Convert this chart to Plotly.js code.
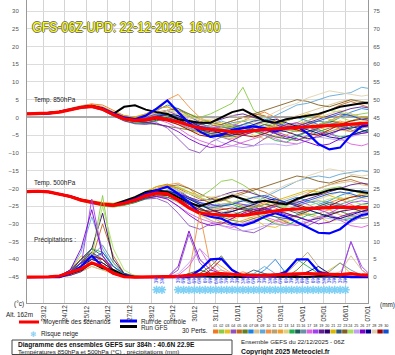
<!DOCTYPE html>
<html><head><meta charset="utf-8">
<script src="https://cdn.plot.ly/plotly-3.0.1.min.js"></script>
<style>body{margin:0;background:#fff}#c{width:395px;height:355px}</style>
</head><body><div id="c"></div>
<script>
// hours since 22/12/2025 06Z
const hours=[0,12,24,36,48,60,72,84,96,108,120,132,144,156,168,180,192,204,216,228,240,252,264,276,288,300,312,324,336,348,360,372,384];
const dateTickHours=[18,42,66,90,114,138,162,186,210,234,258,282,306,330,354,378];
const dateLabels=['23/12','24/12','25/12','26/12','27/12','28/12','29/12','30/12','31/12','01/01','02/01','03/01','04/01','05/01','06/01','07/01'];
const leftTicks=[-45,-40,-35,-30,-25,-20,-15,-10,-5,0,5,10,15,20,25,30];
const rightTicks=[0,5,10,15,20,25,30,35,40,45,50,55,60,65,70,75];

// ensemble mean / control / GFS
const mean_t850=[1.0,1.0,1.2,1.5,2.2,2.8,3.1,2.3,0.8,-0.4, -0.8,-0.6,0.0,-0.5,-1.2,-2.2,-3.0,-3.4,-3.8,-4.0, -4.0,-3.6,-3.4,-3.2,-3.0,-2.8,-2.7,-2.4,-2.1,-1.9, -1.8,-1.6,-1.5];
const ctrl_t850=[1.0,1.0,1.1,1.6,2.3,2.9,3.2,2.6,1.2,0.0, -0.5,0.5,2.5,4.8,1.5,-1.5,-4.0,-5.5,-5.0,-3.5, -3.0,-2.5,-3.0,-4.0,-3.0,-2.5,-4.5,-7.5,-9.0,-8.5, -5.0,-2.5,-2.0];
const gfs_t850=[1.0,1.0,1.3,1.6,2.2,2.9,3.3,2.5,1.0,3.0, 3.4,2.2,1.5,1.0,-0.5,-1.0,-1.5,-1.5,0.0,1.5, 2.2,0.5,-1.0,-1.5,-0.5,0.0,0.5,1.0,2.0,3.0, 3.5,4.0,4.2];
const mean_t500=[-20.9,-20.8,-21.0,-21.6,-22.3,-23.3,-24.0,-24.5,-24.8,-24.2, -23.3,-22.0,-21.3,-21.5,-23.3,-25.5,-27.0,-27.3,-27.5,-27.6, -27.6,-27.2,-26.8,-26.3,-26.0,-25.8,-25.6,-25.5,-25.4,-25.3, -25.3,-25.4,-25.4];
const ctrl_t500=[-20.9,-20.8,-21.0,-21.5,-22.2,-23.2,-24.0,-24.6,-24.8,-24.0, -23.0,-21.5,-20.5,-19.5,-21.5,-24.0,-27.0,-28.0,-28.5,-30.0, -30.5,-29.5,-28.0,-27.0,-28.0,-29.5,-31.0,-32.5,-32.7,-31.5, -29.0,-27.5,-27.0];
const gfs_t500=[-20.9,-20.8,-21.0,-21.6,-22.3,-23.2,-23.9,-24.4,-24.6,-23.6, -22.5,-21.0,-20.5,-21.0,-22.5,-24.0,-25.0,-24.0,-23.0,-22.0, -23.0,-24.0,-23.5,-24.0,-24.5,-23.0,-22.0,-21.5,-20.5,-20.0, -20.5,-21.0,-21.5];
const mean_prec=[0,0,0.1,0.3,1.4,2.3,4.0,3.0,1.1,0.1, 0,0,0,0,0.2,0.5,0.6,0.8,1.0,0.8, 0.5,0.4,0.5,0.7,0.8,0.9,1.0,1.0,0.8,0.7, 1.0,0.6,0.5];
const ctrl_prec=[0,0,0,0,1.0,3.0,6.0,3.0,1.0,0.2, 0,0,0,0,0,0,2.0,5.0,5.2,2.0, 0.3,0,0.5,0.5,1.5,5.0,5.0,1.5,0.8,0.3, 0,0,0];
const gfs_prec=[0,0,0,0.1,1.0,2.0,4.0,2.5,2.0,0.5, 0,0,0,0,0,0.3,0.5,0.2,0,0, 0,0.3,0.5,0.2,0,0,0,0.3,0.5,0.2, 0,0,0];

// 30 perturbations: 850 hPa temperature
const m01_t850=[1.2,1.1,1.4,1.8,2.5,3.2,3.8,3.5,2.0,0.5, 0.0,1.0,2.5,3.0,1.5,0.0,-1.0,-2.0,-3.0,-2.5, -1.0,0.5,1.5,0.0,-2.0,-3.5,-4.0,-2.5,-1.0,0.5, 1.0,0.0,-0.5];
const m02_t850=[0.9,1.0,1.1,1.4,2.0,2.7,3.0,2.2,0.6,-0.8, -1.5,-1.0,0.5,1.5,2.0,1.0,0.0,1.0,2.5,4.0, 8.5,2.0,0.0,-1.0,-2.0,-1.5,0.0,1.0,2.0,1.5, 0.5,1.0,1.5];
const m03_t850=[1.0,1.0,1.3,1.6,2.3,2.9,3.2,2.5,1.0,-0.2, -1.0,-1.5,-1.0,-0.5,-2.0,-3.5,-4.5,-5.0,-4.0,-3.0, -3.5,-5.0,-6.0,-5.0,-3.5,-2.0,-1.5,-2.5,-4.0,-3.0, -2.0,-1.0,0.0];
const m04_t850=[1.1,1.0,1.2,1.4,2.0,2.6,2.8,2.0,0.4,-1.0, -1.8,-2.0,-1.5,-3.0,-6.0,-9.0,-10.0,-7.0,-5.5,-6.5, -7.5,-8.0,-6.0,-4.0,-5.0,-6.5,-5.0,-3.0,-2.0,-3.0, -4.0,-2.5,-1.5];
const m05_t850=[1.0,1.1,1.3,1.7,2.4,3.0,3.4,2.8,1.4,0.5, 0.0,0.5,1.5,2.0,0.5,-1.0,-2.0,-2.5,-2.0,-1.0, 0.0,1.0,0.5,-1.0,-2.5,-2.0,-1.0,0.5,2.0,3.5, 4.5,3.5,2.5];
const m06_t850=[1.0,0.9,1.1,1.5,2.1,2.8,3.0,2.2,0.8,-0.5, -1.2,-1.5,-2.0,-2.5,-3.0,-3.5,-4.0,-4.5,-5.0,-5.5, -5.0,-4.0,-3.5,-4.5,-6.0,-6.5,-5.5,-4.0,-3.0,-2.5, -3.5,-4.5,-4.0];
const m07_t850=[1.1,1.0,1.2,1.5,2.2,2.9,3.3,2.7,1.1,0.0, -0.3,0.5,2.0,3.5,2.5,0.5,-1.5,-3.0,-4.0,-3.5, -2.0,-2.5,-3.5,-2.0,-1.0,0.0,-1.0,-2.0,-1.5,0.0, 1.5,2.5,2.0];
const m08_t850=[1.0,1.0,1.2,1.6,2.3,2.9,3.1,2.4,0.9,-0.3, -0.8,-0.3,0.8,1.5,1.0,-0.5,-2.0,-3.0,-3.5,-4.5, -5.0,-4.0,-2.5,-1.5,-0.5,0.5,1.5,2.5,3.5,4.5, 5.0,4.0,3.5];
const m09_t850=[1.0,1.0,1.3,1.7,2.4,3.0,3.3,2.6,1.0,-0.2, -0.5,0.2,1.0,0.5,-1.0,-2.5,-3.0,-2.0,-1.0,-2.0, -3.0,-2.5,-1.0,0.5,2.0,3.5,4.0,5.0,6.0,6.5, 7.0,8.5,8.0];
const m10_t850=[1.2,1.2,1.4,1.8,2.6,3.3,3.8,3.0,1.6,0.5, 0.0,0.5,1.5,5.0,6.5,3.0,0.0,-1.5,-2.5,-3.0, -2.0,-1.0,-2.0,-3.0,-2.5,-1.5,-2.5,-3.5,-2.0,-1.0, -2.0,-3.0,-2.5];
const m11_t850=[0.9,1.0,1.1,1.5,2.1,2.7,2.9,2.1,0.6,-0.6, -1.2,-1.0,-0.5,-1.0,-2.0,-3.0,-3.5,-3.0,-2.5,-3.5, -4.5,-4.0,-3.0,-2.0,-2.5,-3.5,-4.5,-5.0,-4.0,-3.0, -2.0,-2.5,-3.0];
const m12_t850=[1.0,1.1,1.3,1.6,2.3,2.9,3.2,2.5,1.0,-0.2, -0.8,-0.5,0.3,1.0,0.0,-1.5,-3.0,-4.5,-5.5,-6.0, -5.0,-4.0,-4.5,-5.5,-5.0,-3.5,-2.0,-1.0,-2.0,-3.5, -4.0,-3.0,-2.0];
const m13_t850=[1.0,1.0,1.2,1.5,2.2,2.8,3.1,2.4,0.9,-0.4, -0.9,-0.7,0.0,0.5,-0.5,-1.5,-2.5,-3.5,-4.0,-3.0, -2.0,-1.5,-2.5,-3.5,-3.0,-2.0,-1.0,0.0,1.0,2.0, 1.0,0.0,0.5];
const m14_t850=[1.1,1.0,1.2,1.6,2.3,2.9,3.2,2.4,0.8,-0.6, -1.4,-1.8,-1.0,0.0,-1.0,-2.0,-3.0,-3.5,-3.0,-2.5, -3.0,-4.0,-5.0,-6.5,-7.0,-5.5,-4.0,-3.5,-4.5,-5.5, -5.0,-4.0,-3.5];
const m15_t850=[1.0,1.0,1.1,1.4,2.0,2.6,2.9,2.1,0.5,-0.9, -1.6,-1.5,-0.8,-0.5,-1.5,-3.0,-4.0,-5.0,-5.5,-5.0, -4.0,-3.0,-2.0,-2.5,-3.5,-4.0,-3.0,-2.0,-1.0,-1.5, -2.5,-3.5,-4.5];
const m16_t850=[1.0,1.1,1.3,1.7,2.4,3.0,3.3,2.6,1.1,-0.1, -0.6,0.0,0.8,0.5,-0.5,-2.0,-3.0,-3.5,-2.5,-1.5, -1.0,-2.0,-3.0,-4.0,-3.5,-2.5,-1.5,-1.0,-1.5,-2.0, -1.0,0.0,0.5];
const m17_t850=[1.0,1.0,1.2,1.5,2.2,2.8,3.0,2.2,0.6,-0.7, -1.3,-1.2,-0.5,-1.5,-3.0,-5.0,-6.5,-7.5,-8.5,-8.0, -7.0,-6.0,-5.0,-6.0,-7.0,-7.5,-6.5,-5.0,-4.5,-6.0, -7.5,-8.0,-7.0];
const m18_t850=[1.1,1.0,1.2,1.6,2.3,3.0,3.4,2.8,1.3,0.2, -0.4,0.0,1.0,2.0,0.5,-1.0,-2.5,-3.0,-2.5,-2.0, -2.5,-3.5,-4.0,-3.0,-2.0,-1.5,-2.5,-4.0,-5.0,-3.5, -2.0,-1.5,-2.0];
const m19_t850=[1.0,1.0,1.1,1.5,2.1,2.7,3.0,2.3,0.7,-0.5, -1.0,-0.8,0.0,0.5,0.0,-1.0,-2.0,-1.5,-0.5,0.5, 1.0,0.0,-1.0,-2.0,-3.0,-2.5,-1.5,-0.5,0.5,1.5, 2.5,3.0,2.5];
const m20_t850=[1.0,1.0,1.2,1.5,2.2,2.8,3.1,2.4,0.9,-0.3, -0.8,-0.6,0.0,0.5,-0.5,-2.0,-3.5,-4.0,-4.5,-5.0, -4.5,-3.5,-3.0,-3.5,-4.0,-5.0,-6.0,-5.5,-4.5,-3.5, -3.0,-2.5,-2.0];
const m21_t850=[1.1,1.1,1.3,1.7,2.4,3.1,3.5,2.9,1.5,0.4, 0.2,1.0,2.5,3.0,2.0,0.5,-0.5,-1.0,-1.5,-2.5, -3.5,-4.0,-3.0,-2.0,-1.0,0.0,1.0,0.5,-0.5,-1.5, -1.0,0.0,0.5];
const m22_t850=[1.0,1.0,1.2,1.5,2.2,2.8,3.0,2.2,0.7,-0.6, -1.1,-1.0,-0.3,0.0,-1.0,-2.5,-3.5,-4.5,-5.0,-4.0, -3.0,-3.5,-4.5,-5.5,-6.0,-5.0,-4.0,-3.0,-2.0,-2.5, -3.0,-2.0,-1.5];
const m23_t850=[1.0,1.0,1.3,1.6,2.3,3.0,3.3,2.6,1.1,0.0, -0.5,0.2,1.2,2.0,2.5,1.0,-0.5,-1.5,-2.0,-1.0, 0.0,1.0,2.0,3.0,4.0,5.0,4.5,3.5,3.0,4.0, 5.0,4.5,4.0];
const m24_t850=[0.9,1.0,1.1,1.4,2.0,2.6,2.9,2.1,0.6,-0.7, -1.3,-1.0,-0.2,0.5,1.0,0.5,-0.5,-1.5,-2.5,-2.0, -1.0,-0.5,-1.5,-2.5,-3.5,-4.0,-3.0,-2.0,-1.0,0.0, -1.0,-2.0,-2.5];
const m25_t850=[1.0,1.0,1.2,1.6,2.3,2.9,3.2,2.5,1.0,-0.3, -0.9,-0.6,0.0,-0.5,-1.5,-3.0,-4.0,-5.5,-7.0,-8.0, -8.5,-8.0,-7.5,-7.5,-8.0,-7.5,-6.5,-5.5,-6.0,-6.5, -5.5,-4.5,-4.0];
const m26_t850=[1.1,1.0,1.2,1.5,2.2,2.8,3.1,2.4,0.8,-0.5, -1.0,-1.3,-1.8,-2.5,-4.0,-6.0,-7.5,-8.5,-8.0,-6.5, -5.0,-4.0,-3.5,-4.5,-5.5,-6.0,-7.0,-8.0,-7.5,-6.0, -5.0,-4.5,-4.0];
const m27_t850=[1.0,1.0,1.2,1.5,2.2,2.8,3.1,2.3,0.7,-0.4, -0.9,-0.6,0.2,1.0,0.5,-1.0,-2.5,-3.5,-4.5,-4.0, -3.0,-2.0,-1.0,-0.5,-1.5,-2.5,-3.5,-4.5,-5.5,-6.0, -5.0,-4.0,-3.0];
const m28_t850=[1.0,1.1,1.3,1.7,2.4,3.1,3.4,2.7,1.2,0.1, -0.3,0.3,1.3,2.0,1.0,0.0,-0.5,-0.5,0.0,0.5, 0.0,-1.0,0.0,1.5,3.0,4.0,5.5,6.5,7.5,7.0, 6.5,6.0,6.5];
const m29_t850=[1.0,1.0,1.2,1.5,2.2,2.8,3.0,2.2,0.7,-0.6, -1.2,-1.0,-0.5,-1.0,-2.0,-3.5,-5.0,-5.5,-5.0,-4.5, -5.0,-5.5,-4.5,-3.5,-3.0,-3.5,-4.5,-5.0,-3.5,-2.0, -1.0,-0.5,-1.0];
const m30_t850=[1.0,1.0,1.2,1.6,2.3,2.9,3.2,2.5,1.0,-0.2, -0.7,-0.3,0.5,1.0,0.0,-1.5,-2.5,-3.0,-3.5,-3.0, -2.0,-1.0,-0.5,-1.5,-2.5,-3.0,-2.0,-1.0,0.0,1.0, 0.5,-0.5,0.0];

// 500 hPa temperature
const m01_t500=[-20.8,-20.7,-20.9,-21.4,-22.0,-23.0,-23.6,-24.0,-24.3,-23.8, -23.0,-21.5,-20.0,-19.0,-20.5,-22.5,-24.5,-26.0,-27.5,-28.5, -27.0,-25.0,-24.0,-25.5,-27.0,-28.0,-26.5,-25.0,-24.0,-23.0, -24.5,-26.0,-25.5];
const m02_t500=[-21.0,-20.9,-21.1,-21.7,-22.5,-23.6,-24.4,-25.0,-25.3,-24.8, -24.0,-22.8,-21.5,-20.5,-19.5,-21.0,-22.5,-20.5,-18.0,-17.5, -19.0,-21.0,-23.0,-24.5,-25.0,-23.5,-22.0,-21.0,-20.0,-19.5, -20.5,-21.5,-22.0];
const m03_t500=[-20.9,-20.8,-21.0,-21.6,-22.4,-23.4,-24.1,-24.6,-24.9,-24.3, -23.4,-22.2,-21.5,-22.0,-23.5,-25.5,-27.5,-29.0,-30.0,-29.0, -27.5,-28.5,-30.5,-31.0,-29.5,-28.0,-27.0,-28.0,-29.5,-28.5, -27.0,-26.0,-25.5];
const m04_t500=[-20.8,-20.8,-21.0,-21.5,-22.3,-23.2,-23.9,-24.4,-24.7,-24.4, -23.8,-23.0,-22.8,-24.0,-27.0,-30.5,-31.5,-30.0,-29.5,-30.5, -32.0,-32.5,-31.0,-29.0,-28.5,-29.5,-30.5,-29.0,-27.5,-28.5, -29.5,-28.0,-27.0];
const m05_t500=[-20.9,-20.7,-20.9,-21.5,-22.2,-23.1,-23.8,-24.2,-24.4,-23.6, -22.5,-21.0,-19.5,-18.8,-20.0,-21.5,-23.0,-24.0,-23.5,-22.0, -21.0,-20.0,-21.0,-22.5,-24.0,-23.0,-21.5,-20.0,-19.0,-18.0, -17.5,-18.5,-19.5];
const m06_t500=[-20.9,-20.9,-21.1,-21.7,-22.4,-23.4,-24.1,-24.7,-25.0,-24.6, -23.8,-22.6,-21.8,-22.0,-23.0,-24.5,-26.0,-27.0,-28.0,-29.0, -29.5,-28.5,-27.5,-28.0,-29.5,-30.5,-29.5,-28.0,-27.0,-26.5, -27.5,-28.5,-28.0];
const m07_t500=[-20.8,-20.8,-21.0,-21.6,-22.3,-23.3,-24.0,-24.4,-24.6,-23.9, -22.9,-21.5,-20.3,-19.5,-20.5,-22.5,-24.5,-26.0,-27.0,-26.0, -24.5,-25.0,-26.5,-25.0,-23.5,-22.5,-23.5,-24.5,-23.5,-22.0, -21.0,-20.5,-21.0];
const m08_t500=[-20.9,-20.8,-21.0,-21.6,-22.3,-23.3,-24.0,-24.5,-24.8,-24.2, -23.3,-22.0,-21.0,-20.5,-21.0,-22.5,-24.0,-25.5,-26.5,-27.5, -28.0,-27.0,-25.5,-24.0,-23.0,-22.0,-21.0,-20.0,-19.0,-18.5, -18.0,-19.0,-19.5];
const m09_t500=[-20.9,-20.8,-21.0,-21.5,-22.2,-23.2,-23.9,-24.3,-24.6,-24.0, -23.0,-21.8,-21.0,-21.5,-23.0,-24.5,-25.0,-24.0,-23.0,-24.0, -25.0,-24.0,-22.5,-21.0,-19.5,-18.0,-17.0,-16.5,-17.0,-16.0, -15.5,-15.0,-15.5];
const m10_t500=[-20.8,-20.7,-20.9,-21.4,-22.1,-23.0,-23.7,-24.1,-24.3,-23.6, -22.6,-21.2,-20.0,-19.0,-18.5,-20.0,-22.5,-24.5,-25.5,-26.5, -25.5,-24.5,-25.5,-26.5,-26.0,-25.0,-26.0,-27.0,-26.0,-25.0, -25.5,-26.5,-26.0];
const m11_t500=[-21.0,-20.9,-21.1,-21.7,-22.5,-23.5,-24.2,-24.8,-25.1,-24.6, -23.8,-22.6,-22.0,-22.5,-24.0,-25.5,-26.5,-26.0,-25.5,-26.5, -27.5,-27.0,-26.0,-25.0,-25.5,-26.5,-27.5,-28.5,-27.5,-26.5, -25.5,-26.0,-26.5];
const m12_t500=[-20.9,-20.8,-21.0,-21.6,-22.3,-23.3,-24.0,-24.5,-24.8,-24.2, -23.3,-22.0,-21.2,-21.0,-22.0,-24.0,-26.0,-28.0,-29.5,-30.0, -29.0,-28.0,-28.5,-29.5,-29.0,-27.5,-26.0,-25.0,-26.0,-27.5, -28.0,-27.0,-26.0];
const m13_t500=[-20.9,-20.8,-21.0,-21.6,-22.3,-23.3,-24.0,-24.5,-24.8,-24.2, -23.3,-22.0,-21.3,-21.0,-21.8,-23.0,-24.5,-26.0,-27.0,-26.0, -25.0,-24.5,-25.5,-26.5,-26.0,-25.0,-24.0,-23.0,-22.0,-21.0, -22.0,-23.0,-22.5];
const m14_t500=[-20.8,-20.8,-21.0,-21.6,-22.4,-23.4,-24.2,-24.8,-25.1,-24.7, -24.0,-23.0,-22.0,-21.5,-22.5,-24.0,-25.0,-25.5,-25.0,-24.5, -25.5,-27.0,-28.5,-30.0,-30.5,-29.0,-27.5,-27.0,-28.0,-29.0, -28.5,-27.5,-27.0];
const m15_t500=[-20.9,-20.9,-21.1,-21.7,-22.5,-23.5,-24.2,-24.7,-25.0,-24.6, -23.9,-22.8,-22.3,-22.5,-23.5,-25.0,-26.5,-27.5,-28.0,-27.5, -26.5,-25.5,-24.5,-25.0,-26.0,-27.0,-26.0,-25.0,-24.0,-24.5, -25.5,-26.5,-27.0];
const m16_t500=[-20.9,-20.8,-21.0,-21.5,-22.2,-23.2,-23.9,-24.4,-24.7,-24.1, -23.1,-21.8,-20.8,-20.5,-21.5,-23.0,-24.5,-25.5,-25.0,-24.0, -23.5,-24.5,-25.5,-26.5,-26.0,-25.0,-24.0,-23.5,-24.0,-24.5, -23.5,-22.5,-22.0];
const m17_t500=[-20.9,-20.8,-21.0,-21.6,-22.4,-23.4,-24.1,-24.6,-24.9,-24.4, -23.6,-22.5,-22.0,-23.0,-25.0,-27.0,-28.5,-29.5,-30.5,-31.0, -30.0,-29.0,-28.0,-29.0,-30.0,-30.5,-29.5,-28.0,-27.5,-29.0, -30.5,-31.0,-30.0];
const m18_t500=[-20.8,-20.7,-20.9,-21.5,-22.2,-23.2,-23.8,-24.2,-24.4,-23.7, -22.7,-21.3,-20.2,-19.8,-21.0,-22.5,-24.0,-25.0,-24.5,-24.0, -24.5,-25.5,-26.0,-25.0,-24.0,-23.5,-24.5,-26.0,-27.0,-25.5, -24.0,-23.5,-24.0];
const m19_t500=[-20.9,-20.8,-21.0,-21.6,-22.3,-23.3,-24.0,-24.5,-24.8,-24.1, -23.2,-21.9,-21.0,-20.8,-21.5,-22.5,-23.5,-23.0,-22.0,-21.0, -20.5,-21.5,-22.5,-23.5,-24.5,-24.0,-23.0,-22.0,-21.0,-20.0, -19.0,-18.5,-19.0];
const m20_t500=[-20.9,-20.8,-21.0,-21.6,-22.3,-23.3,-24.0,-24.5,-24.8,-24.2, -23.3,-22.1,-21.4,-21.2,-22.0,-23.5,-25.5,-27.0,-27.5,-28.0, -27.5,-26.5,-26.0,-26.5,-27.0,-28.0,-29.0,-28.5,-27.5,-26.5, -26.0,-25.5,-25.0];
const m21_t500=[-20.8,-20.7,-20.9,-21.4,-22.1,-23.0,-23.6,-24.0,-24.2,-23.4, -22.3,-20.8,-19.5,-19.0,-19.8,-21.0,-22.0,-22.5,-23.0,-24.0, -25.0,-25.5,-24.5,-23.5,-22.5,-21.5,-20.5,-21.0,-22.0,-23.0, -22.5,-21.5,-21.0];
const m22_t500=[-20.9,-20.8,-21.0,-21.6,-22.3,-23.3,-24.0,-24.5,-24.8,-24.3, -23.5,-22.3,-21.6,-21.5,-22.5,-24.0,-25.5,-27.0,-27.5,-26.5, -25.5,-26.0,-27.0,-28.0,-28.5,-27.5,-26.5,-25.5,-24.5,-25.0, -25.5,-24.5,-24.0];
const m23_t500=[-20.9,-20.8,-21.0,-21.5,-22.2,-23.2,-23.9,-24.3,-24.5,-23.8, -22.8,-21.4,-20.2,-19.5,-19.0,-20.0,-21.5,-23.0,-23.5,-22.5, -21.5,-20.5,-19.5,-18.5,-17.5,-16.5,-17.0,-18.0,-18.5,-17.5, -16.5,-17.0,-17.5];
const m24_t500=[-21.0,-20.9,-21.1,-21.7,-22.5,-23.5,-24.2,-24.8,-25.1,-24.6, -23.8,-22.6,-21.8,-21.3,-20.8,-21.5,-22.5,-23.5,-24.5,-24.0, -23.0,-22.5,-23.5,-24.5,-25.5,-26.0,-25.0,-24.0,-23.0,-22.5, -23.5,-24.5,-25.0];
const m25_t500=[-20.9,-20.8,-21.0,-21.6,-22.3,-23.3,-24.0,-24.5,-24.8,-24.2, -23.4,-22.2,-21.5,-21.8,-23.0,-25.0,-27.0,-29.0,-30.5,-31.5, -32.0,-31.5,-30.5,-30.0,-30.5,-30.0,-29.0,-28.0,-28.5,-29.0, -28.0,-27.0,-26.5];
const m26_t500=[-20.9,-20.8,-21.0,-21.6,-22.4,-23.4,-24.1,-24.6,-24.9,-24.4, -23.7,-22.7,-22.3,-23.0,-25.0,-27.5,-29.5,-30.5,-30.0,-28.5, -27.0,-26.0,-25.5,-26.5,-27.5,-28.0,-29.0,-30.0,-29.5,-28.0, -27.0,-26.5,-26.0];
const m27_t500=[-20.9,-20.8,-21.0,-21.6,-22.3,-23.3,-24.0,-24.5,-24.8,-24.2, -23.3,-22.0,-21.1,-20.8,-21.5,-23.0,-24.5,-26.0,-27.0,-26.5, -25.5,-24.5,-23.5,-23.0,-24.0,-25.0,-26.0,-27.0,-28.0,-28.5, -27.5,-26.5,-25.5];
const m28_t500=[-20.8,-20.7,-20.9,-21.5,-22.2,-23.1,-23.8,-24.2,-24.4,-23.7, -22.7,-21.3,-20.1,-19.5,-20.5,-21.5,-22.0,-22.5,-22.0,-21.5, -22.0,-23.0,-22.0,-20.5,-19.0,-18.0,-16.5,-15.5,-14.5,-15.0, -16.0,-16.5,-16.0];
const m29_t500=[-20.9,-20.9,-21.1,-21.7,-22.4,-23.4,-24.1,-24.7,-25.0,-24.5, -23.7,-22.5,-21.8,-22.0,-23.0,-24.5,-26.0,-26.5,-26.0,-25.5, -26.0,-26.5,-25.5,-24.5,-24.0,-24.5,-25.5,-26.0,-25.0,-23.5, -22.5,-22.0,-22.5];
const m30_t500=[-20.9,-20.8,-21.0,-21.6,-22.3,-23.3,-24.0,-24.5,-24.7,-24.1, -23.2,-21.9,-21.0,-20.8,-21.8,-23.0,-24.0,-24.5,-25.0,-24.5, -23.5,-22.5,-22.0,-23.0,-24.0,-24.5,-23.5,-22.5,-21.5,-21.0, -21.5,-22.5,-22.0];

// precipitation (mm)
const m01_prec=[0,0,0,0.2,1.5,3,5,4,2,0.5, 0,0,0,0,0,0.5,1,3,1,0, 0,0,0.5,1,0.3,0,0,0,0.5,0, 0,0,0];
const m02_prec=[0,0,0,0.1,0.8,3,6,23,4,1, 0.5,0,0,0,0,0,0.2,0.5,0.2,0, 0,0,0,0,0,0.3,1.5,0.5,0,0, 0,0,0];
const m03_prec=[0,0,0,0.3,2,6,4,3,1,0.2, 0,0,0,0,0,0,0,1,2,0.5, 0,0,0,0,0,0,0,0,2,4, 1,0,0];
const m04_prec=[0,0,0,0.2,1,3,7,5,3,0.5, 0,0,0,0,2,12,4,1,0.5,0, 0,0,1,0.5,0,0,0,0,0,0, 10,2,0];
const m05_prec=[0,0,0,0,0.5,2,5,15,6,1, 0,0,0,0,0,0,0,0,0,0, 0.5,1,0.5,0,0,0,0,0,0,0, 0,0,0];
const m06_prec=[0,0,0,0.1,1,4,6,3,1.5,0.3, 0,0,0,0,0,0,1,3,6,2, 0.5,0,0,0,0,2,5,2,0,0, 0,0,0];
const m07_prec=[0,0,0,0.2,1.5,4,6,5,2,0.5, 0,0,0,0,0,0,0,0,1,0.5, 0,0,2,5,1,0,0,0,0,0, 0,0,0];
const m08_prec=[0,0,0,0.1,0.5,2,4,3,2,1, 0.2,0,0,0,0,0,0,0,0,0, 0,0,0,0,0,0,0,0,0.5,1.5, 6,2,0];
const m09_prec=[0,0,0,0.3,2,7,17,8,3,0.5, 0,0,0,0,0,0,0.5,1,0.5,0, 0,1,3,1,0,0,0,0,0,0, 0,0,0];
const m10_prec=[0,0,0,0.2,1,3,5,4,2,0.5, 0,0,0,0,0,1,18,3,0,0.5, 1.5,0.5,0,0,0,0,0,0,0,0, 0,0.5,1];
const m11_prec=[0,0,0,0.1,0.5,1.5,3,2,1,0.3, 0,0,0,0,0,0,0,0,0.5,1, 0.3,0,0,0,1,4,7,3,0.5,0, 0,0,0];
const m12_prec=[0,0,0,0.2,1.5,4,6,5,2,0.5, 0,0,0,0,0,0.5,2,5,3,1, 0,0,0,0,0,0,0,0,0,0, 0,0,0];
const m13_prec=[0,0,0,0.1,0.8,2,3,2,1,0.2, 0,0,0,0,0,0,0,0,0,0, 0,0.5,1,0.5,0,0,0,0,0,0, 0,0,0];
const m14_prec=[0,0,0,0.3,2,5,8,7,3,0.8, 0,0,0,0,0,0,0,0,0,0, 0,0,0,0,2,5,3,1,0,0, 0,0,0];
const m15_prec=[0,0,0,0.2,1,4,7,4,2,0.5, 0,0,0,0,0,1,2,1,0.5,0, 0,0,0,0,0,0,0,0,0,0, 0,0,0];
const m16_prec=[0,0,0,0.2,1.5,3,6,9,4,1, 0.2,0,0,0,0,0,0,0,0,0, 0,0,0,0,0,0,0,0,1.5,4, 2,0.5,0];
const m17_prec=[0,0,0,0.3,2,4,5,5,2,0.5, 0,0,0,0,0.5,3,8,3,1,0.5, 0,0,0,0,0,0,0,0,0,0, 0,0,0];
const m18_prec=[0,0,0,0.2,1,3,22,6,2,0.5, 0,0,0,0,0,0,0,0,0,0, 0,0,0,0,0,0,0,0,0,0, 10,3,0];
const m19_prec=[0,0,0,0.1,0.5,1.5,4,3,1.5,0.3, 0,0,0,0,0,0,0,0,0,0, 0,0,0,0,0,0.5,1,0.5,0,0, 0,0,0];
const m20_prec=[0,0,0,0.2,1.5,5,8,18,5,1, 0,0,0,0,0,0,0,0,0,0, 0,0,0,0,0,0,0,0,0,0, 0,0,0];
const m21_prec=[0,0,0,0.2,1,3,5,4,2,0.5, 0,0,0,0,0,0,0,0.5,1,0.5, 0,0,0,0,0,0,0,0,0,0, 0,0,0];
const m22_prec=[0,0,0,0.2,1.5,4,8,6,2,0.5, 0,0,0,0,0,0,0,0,0,0, 0.5,2,1,0,0,0,0,0,0,0, 0,0,0];
const m23_prec=[0,0,0,0.3,2,5,7,5,2,0.5, 0,0,0,0,0,0,0,0,0,0, 0,0,0,0,0,0,0,0,0,0, 0,0,0];
const m24_prec=[0,0,0,0.2,1,3,6,20,8,2, 0.3,0,0,0,0,0,0,0,0,0, 0,0,0,0.5,1,0.5,0,0,0,0, 0,0,0];
const m25_prec=[0,0,0,0.2,1.5,4,6,6,2,0.5, 0,0,0,0,1,4,8,5,2,1, 0.5,0,0,0,0,0,0,0,0,0, 0,0,0];
const m26_prec=[0,0,0,0.3,2,8,19,6,2,0.5, 0,0,0,0,3,13,5,2,1,0, 0,0,0,0,0,0,0,0,0,0, 0,0,0];
const m27_prec=[0,0,0,0.2,1,3,5,4,2,0.5, 0,0,0,0,0,0,0,0,0,0, 0,0,0,0,0,0.5,1.5,3,1,0, 0,0,0];
const m28_prec=[0,0,0,0.1,0.8,2,4,3,1,0.3, 0,0,0,0,0,0,0,0,0,0, 0,0,0,0,0,0,0,0,0,0, 0,0,0];
const m29_prec=[0,0,0,0.2,1.5,4,6,5,2,0.5, 0,0,0,0,0,0,0,2,5,2, 0,0,0,0,0,0,0,0,0,0, 0,0,0];
const m30_prec=[0,0,0,0.2,1.5,4,5,7,3,1, 0.2,0,0,0,0,0,0,0,0,0, 0,0,0,0,0,0,0,0,0,0, 0,0,0];

const memberLabels=['01','02','03','04','05','06','07','08','09','10','11','12','13','14','15','16','17','18','19','20','21','22','23','24','25','26','27','28','29','30'];
const memberColors=['#f07820','#88cc44','#e8c020','#9050c0','#c06820','#608020','#2080e0','#d8c090','#60a8d8','#f09040','#b8a070','#f0a030','#e0d080','#20b050','#1e5a5a','#6890a8','#e060e0','#a040f0','#602090','#300070','#d8b800','#305878','#806020','#a8e060','#c0a0f0','#8000d0','#000090','#e0d0b0','#a00000','#1050d0'];

// snow risk (hours, probability %)
const snowHours=[144,150,168,174,180,186,192,198,204,210,216,222,228,234,240,246,252,258,264,270,276,282,288,294,300,306,312,318,324,330,336,342,348,354];
const snowPct=['3%','3%','3%','6%','6%','6%','6%','6%','6%','6%','6%','3%','3%','3%','3%','6%','6%','3%','3%','3%','6%','6%','6%','3%','3%','6%','6%','6%','6%','3%','3%','3%','3%','3%'];

const members850=[m01_t850,m02_t850,m03_t850,m04_t850,m05_t850,m06_t850,m07_t850,m08_t850,m09_t850,m10_t850,m11_t850,m12_t850,m13_t850,m14_t850,m15_t850,m16_t850,m17_t850,m18_t850,m19_t850,m20_t850,m21_t850,m22_t850,m23_t850,m24_t850,m25_t850,m26_t850,m27_t850,m28_t850,m29_t850,m30_t850];
const members500=[m01_t500,m02_t500,m03_t500,m04_t500,m05_t500,m06_t500,m07_t500,m08_t500,m09_t500,m10_t500,m11_t500,m12_t500,m13_t500,m14_t500,m15_t500,m16_t500,m17_t500,m18_t500,m19_t500,m20_t500,m21_t500,m22_t500,m23_t500,m24_t500,m25_t500,m26_t500,m27_t500,m28_t500,m29_t500,m30_t500];
const membersPrec=[m01_prec,m02_prec,m03_prec,m04_prec,m05_prec,m06_prec,m07_prec,m08_prec,m09_prec,m10_prec,m11_prec,m12_prec,m13_prec,m14_prec,m15_prec,m16_prec,m17_prec,m18_prec,m19_prec,m20_prec,m21_prec,m22_prec,m23_prec,m24_prec,m25_prec,m26_prec,m27_prec,m28_prec,m29_prec,m30_prec];

// ---- geometry helpers (pixel -> paper) ----
const W=395,H=355,L=27,R=368,T=0,B=303;
const px=x=>(x-L)/(R-L), py=y=>(B-y)/(B-T);

function ln(y,color,width,axis){
  return {type:'scatter',mode:'lines',x:hours.slice(0,y.length),y:y,yaxis:axis,
    line:{color:color,width:width},hoverinfo:'skip',showlegend:false};
}
const traces=[];
for(let i=0;i<30;i++){
  traces.push(ln(membersPrec[i],memberColors[i],0.9,'y2'));
  traces.push(ln(members500[i],memberColors[i],0.9,'y'));
  traces.push(ln(members850[i],memberColors[i],0.9,'y'));
}
[[gfs_prec,'y2'],[gfs_t500,'y'],[gfs_t850,'y']].forEach(a=>traces.push(ln(a[0],'#000000',2,a[1])));
[[ctrl_prec,'y2'],[ctrl_t500,'y'],[ctrl_t850,'y']].forEach(a=>traces.push(ln(a[0],'#0000ff',2.2,a[1])));
[[mean_prec,'y2'],[mean_t500,'y'],[mean_t850,'y']].forEach(a=>traces.push(ln(a[0],'#ff0000',3.2,a[1])));

// snow risk icons
traces.push({type:'scatter',mode:'markers',x:snowHours,y:snowHours.map(()=> -3.6),yaxis:'y2',
  marker:{symbol:'asterisk-open',size:7,color:'#7fd0f5',line:{color:'#7fd0f5',width:1.5}},hoverinfo:'skip',showlegend:false,cliponaxis:false});

const sans='Liberation Sans';
const TITLE='GFS-06Z-UPD: 22-12-2025  16:00';
const ann=[];
function txt(x,y,t,o){ann.push(Object.assign({xref:'paper',yref:'paper',x:px(x),y:py(y),text:t,showarrow:false,xanchor:'left',yanchor:'middle',
  font:{family:sans,size:6.4,color:'#222'}},o||{}));}

// title
txt(30,27,TITLE,{font:{family:sans,size:14.5,color:'#ffff00',
  shadow:'1px 0 0 #777, -1px 0 0 #777, 0 1px 0 #777, 0 -1px 0 #777'}});
txt(32,100,'Temp. 850hPa');
txt(32,183,'Temp. 500hPa');
txt(32,240,'Précipitations :');
// snow percentages
snowHours.forEach((h,i)=>ann.push({xref:'x',yref:'paper',x:h,y:py(280),text:snowPct[i],textangle:-90,showarrow:false,
  xanchor:'center',yanchor:'middle',font:{family:sans,size:6,color:'#3344ee'}}));
// date labels under the axis (rotated, reading upwards)
dateTickHours.forEach((h,i)=>ann.push({xref:'x',yref:'paper',x:h,y:py(313.5),text:dateLabels[i],textangle:-90,showarrow:false,
  xanchor:'center',yanchor:'middle',font:{family:sans,size:6.4,color:'#333'}}));
// axis extras
txt(12,304,'(°c)');
txt(4,314,'Alt. 162m');
txt(378,305,'(mm)');
// legend
txt(41,322,'Moyenne des scénarios');
txt(139,321,'Run de contrôle');
txt(139,327,'Run GFS');
txt(39,334,'Risque neige');
txt(28,334,'❄',{font:{family:'DejaVu Sans',size:8,color:'#66c4f0'}});
txt(210,330,'30 Perts.',{xanchor:'right'});
memberLabels.forEach((s,i)=>txt(213+i*5.87+2.9,325.5,s,{xanchor:'center',font:{family:sans,size:6,color:'#222'}}));
txt(16,344.5,'<b>Diagramme des ensembles GEFS sur 384h : 40.6N 22.9E</b>',{font:{family:sans,size:6.6,color:'#111'}});
txt(16,351,'Températures 850hPa et 500hPa (°C) , précipitations (mm)',{font:{family:sans,size:6.2,color:'#222'}});
txt(239,341.5,'Ensemble GEFS du 22/12/2025 - 06Z',{font:{family:sans,size:6.2,color:'#222'}});
txt(239,351.5,'<b>Copyright 2025 Meteociel.fr</b>',{font:{family:sans,size:6.8,color:'#111'}});

const shp=[];
function hl(x0,x1,y,c,w){shp.push({type:'line',xref:'paper',yref:'paper',x0:px(x0),x1:px(x1),y0:py(y),y1:py(y),line:{color:c,width:w}});}
hl(19,39,322,'#ff0000',3);
hl(120,137,321,'#0000ff',3);
hl(120,137,326.5,'#000000',3);
memberColors.forEach((c,i)=>shp.push({type:'rect',xref:'paper',yref:'paper',x0:px(213+i*5.87),x1:px(213+i*5.87+5.4),y0:py(333.5),y1:py(329.5),
  fillcolor:c,line:{width:0}}));
shp.push({type:'rect',xref:'paper',yref:'paper',x0:px(12),x1:px(232),y0:py(354.5),y1:py(340),line:{color:'#444',width:1},fillcolor:'rgba(0,0,0,0)'});

const tickFont={family:sans,size:6,color:'#555'};
const layout={
  width:W,height:H,margin:{l:L,r:W-R,t:T,b:H-B},paper_bgcolor:'#fff',plot_bgcolor:'#fff',showlegend:false,
  xaxis:{range:[0,379],tickmode:'array',tickvals:dateTickHours,showticklabels:false,
    showgrid:true,gridcolor:'#d4d4d4',gridwidth:1,zeroline:false,
    showline:true,linecolor:'#999',linewidth:1,ticks:'',fixedrange:true},
  yaxis:{range:[-52.3,33.1],tickmode:'array',tickvals:leftTicks,showgrid:true,gridcolor:'#dcdcdc',gridwidth:1,
    zeroline:true,zerolinecolor:'#aaaaaa',zerolinewidth:2,showline:true,linecolor:'#999',linewidth:1,
    ticks:'outside',ticklen:6,tickcolor:'rgba(0,0,0,0)',tickfont:tickFont,fixedrange:true},
  yaxis2:{range:[-7.3,78.1],overlaying:'y',side:'right',tickmode:'array',tickvals:rightTicks,showgrid:false,zeroline:false,
    showline:true,linecolor:'#999',linewidth:1,ticks:'outside',ticklen:3,tickcolor:'rgba(0,0,0,0)',tickfont:tickFont,fixedrange:true},
  annotations:ann,shapes:shp
};
Plotly.newPlot('c',traces,layout,{staticPlot:true,displayModeBar:false}).then(gd=>{
  gd.querySelectorAll('g.annotation text').forEach(t=>{
    const s=t.style, c=t.textContent;
    if(memberLabels.includes(c)){ s.transformBox='fill-box';s.transformOrigin='center';s.transform='scale(0.62)'; }
    if(snowPct.includes(c)){ s.transformBox='fill-box';s.transformOrigin='center';s.transform='scale(0.8)'; }
    if(c===TITLE){ s.transformBox='fill-box';s.transformOrigin='left center';s.transform='scaleX(0.85)'; }
  });
});
</script></body></html>
